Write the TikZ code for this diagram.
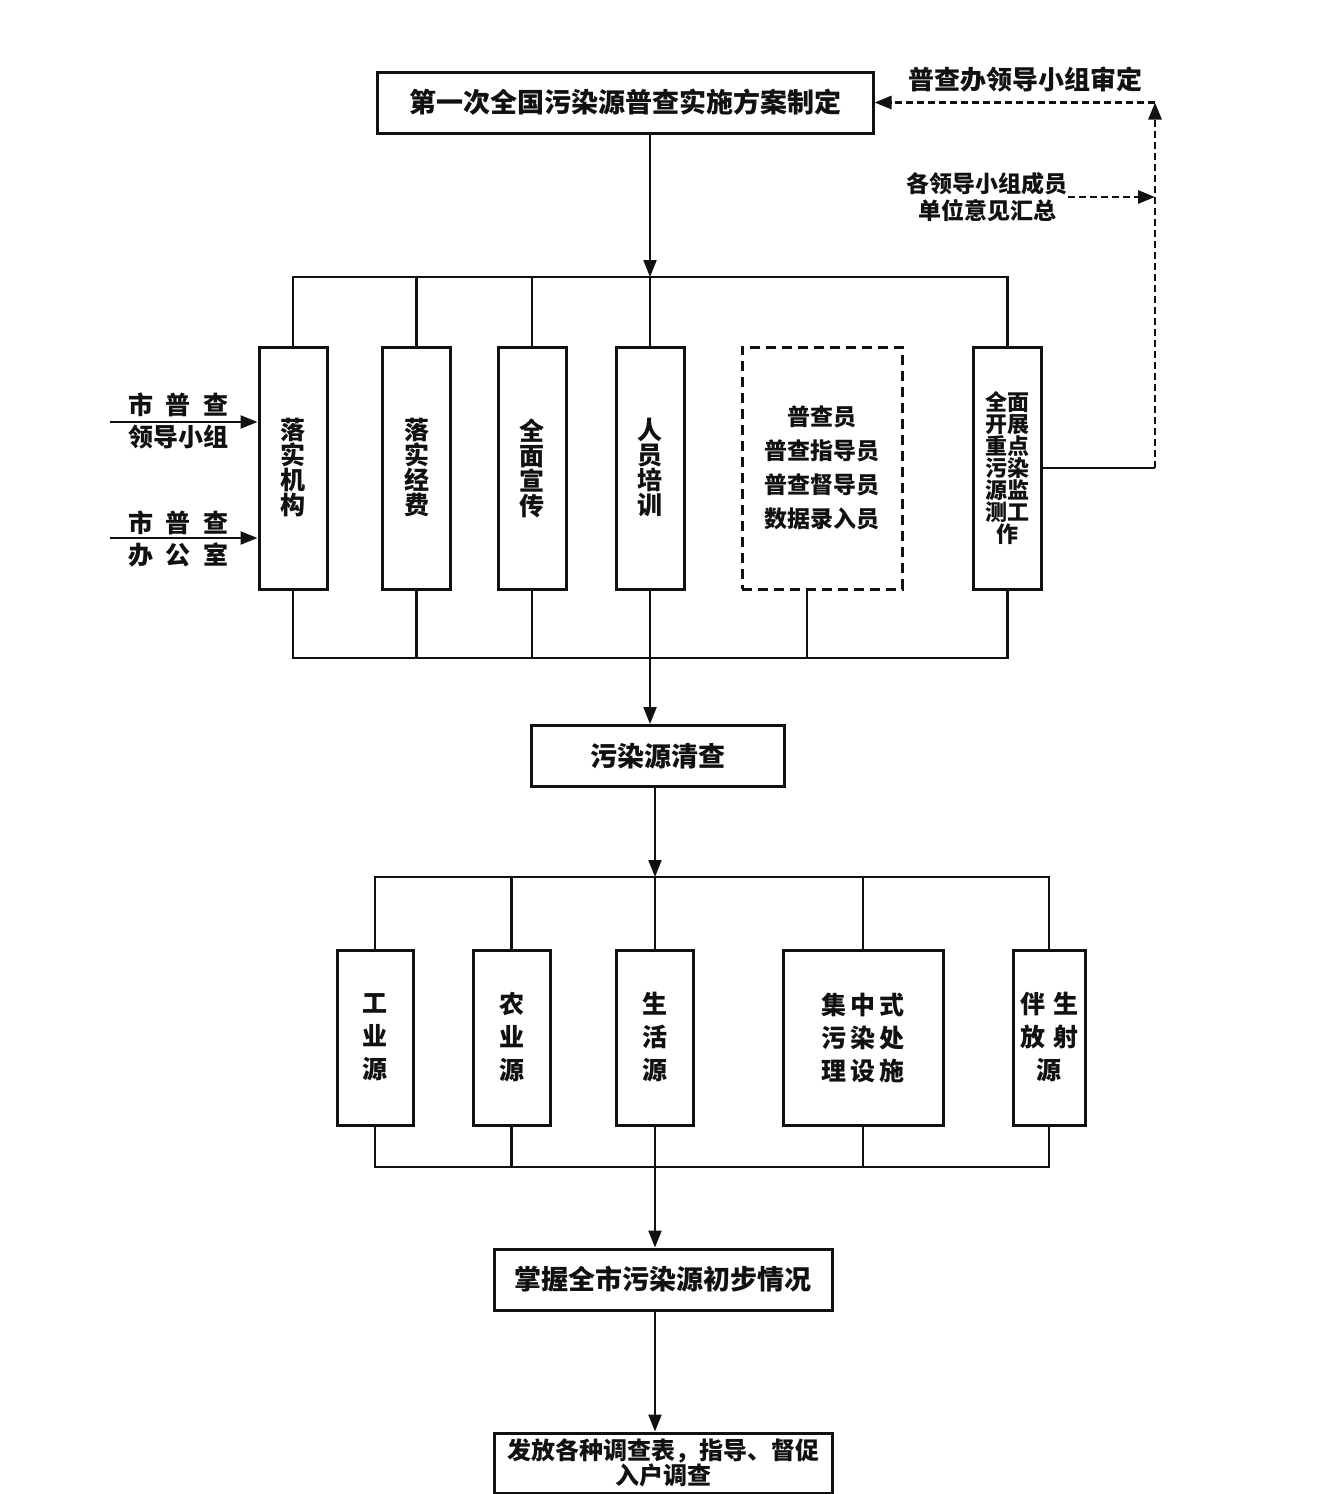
\documentclass[tikz,border=0pt]{standalone}
\usepackage{fontspec}
\setmainfont{Noto Sans CJK SC}
\usetikzlibrary{positioning, arrows.meta, calc}
\definecolor{InkBlack}{RGB}{17, 17, 17}

\begin{document}
\begin{tikzpicture}[
    x=0.5pt, y=-0.5pt,
    box/.style={draw=InkBlack, line width=1.5pt, inner sep=0pt, align=center, text=InkBlack},
    vbox/.style={box, minimum width=34pt, minimum height=121pt, font=\fontsize{12.5}{12.5}\selectfont\bfseries},
    sbox/.style={box, minimum height=87.5pt, font=\fontsize{12.5}{16.5}\selectfont\bfseries},
    wbox/.style={box, minimum height=30.5pt, font=\fontsize{13.5}{13.5}\selectfont\bfseries},
    lbl/.style={align=center, inner sep=0pt, text=InkBlack},
    conn/.style={InkBlack, line width=1.1pt},
    arrow/.style={conn, -{Triangle[length=8.5pt, width=6.5pt]}},
    dasharrow/.style={arrow, line width=1.4pt, dash pattern=on 3.5pt off 2pt}
  ]
    \useasboundingbox (0,0) rectangle (1326,1494);

    % Plan
    \node[wbox, minimum width=248pt] (plan) at (625,102.5) {第一次全国污染源普查实施方案制定};

    % Review loop
    \node[lbl, font=\fontsize{13}{13}\selectfont\bfseries] (approve) at (1025,80) {普查办领导小组审定};
    \node[lbl, font=\fontsize{11.5}{13.5}\selectfont\bfseries] (opinion) at (987,197) {各领导小组成员\\单位意见汇总};
    \coordinate (loop) at (1155,102.5);

    % Preparation
    \node[vbox] (org) at (293,468) {落\\实\\机\\构};
    \node[vbox] (fund) at (416.5,468) {落\\实\\经\\费};
    \node[vbox] (promo) at (532,468) {全\\面\\宣\\传};
    \node[vbox] (train) at (650,468) {人\\员\\培\\训};
    \node[vbox, minimum width=80pt, dash pattern=on 5pt off 3pt,
      font=\fontsize{11.5}{17}\selectfont\bfseries] (staff) at (822,468) {普查员\\普查指导员\\普查督导员\\数据录入员};
    \node[vbox, font=\fontsize{11}{11}\selectfont\bfseries] (monitor) at (1007.5,468) {全面\\开展\\重点\\污染\\源监\\测工\\作};

    % City inputs
    \node[lbl, font=\fontsize{12.5}{16}\selectfont\bfseries] (leader) at (178,421) {市\enspace 普\enspace 查\\领导小组};
    \node[lbl, font=\fontsize{12.5}{16}\selectfont\bfseries] (office) at (178,539) {市\enspace 普\enspace 查\\办\enspace 公\enspace 室};
    \coordinate (leaderin) at (110,422);
    \coordinate (officein) at (110,538);

    % Clean-up survey
    \node[wbox, minimum width=126.5pt] (clean) at (657.5,756) {污染源清查};

    % Source types
    \node[sbox, minimum width=38pt] (ind) at (375,1037.5) {工\\业\\源};
    \node[sbox, minimum width=38.5pt] (agr) at (511.5,1037.5) {农\\业\\源};
    \node[sbox, minimum width=38.5pt] (life) at (655,1037.5) {生\\活\\源};
    \node[sbox, minimum width=80pt] (central) at (863,1037.5) {集\,中\,式\\污\,染\,处\\理\,设\,施};
    \node[sbox, minimum width=36pt] (rad) at (1049,1037.5) {伴\hspace{4pt}生\\放\hspace{4pt}射\\源};

    % Results
    \node[wbox, minimum width=169pt] (grasp) at (663,1279.5) {掌握全市污染源初步情况};
    \node[wbox, minimum width=169pt, minimum height=30pt,
      font=\fontsize{12}{12.5}\selectfont\bfseries] (survey) at (663.5,1463) {发放各种调查表，指导、督促\\入户调查};

    % Connections
    \draw[conn] (monitor.east) -- (monitor.east -| loop);
    \draw[dasharrow] (monitor.east -| loop) -- (loop);
    \draw[dasharrow] (loop) -- (plan.east);
    \draw[dasharrow] (opinion.east) -- (opinion.east -| loop);

    \draw[arrow] (leaderin) -- (leaderin -| org.west);
    \draw[arrow] (officein) -- (officein -| org.west);

    \coordinate (busA) at (650,277);
    \draw[arrow] (busA |- plan.south) -- (busA);
    \draw[conn] (org.north) |- (busA) -| (monitor.north);
    \foreach \n in {fund, promo, train} {
      \draw[conn] (\n.north) -- (\n.north |- busA);
    }

    \coordinate (busB) at (650,658);
    \draw[conn] (org.south) |- (busB) -| (monitor.south);
    \foreach \n in {fund, promo} {
      \draw[conn] (\n.south) -- (\n.south |- busB);
    }
    \draw[conn] ([xshift=-7.5pt]staff.south) -- ([xshift=-7.5pt]staff.south |- busB);
    \draw[arrow] (train.south) -- (train.south |- clean.north);

    \coordinate (busC) at (655,877);
    \draw[arrow] (busC |- clean.south) -- (busC);
    \draw[conn] (ind.north) |- (busC) -| (rad.north);
    \foreach \n in {agr, life, central} {
      \draw[conn] (\n.north) -- (\n.north |- busC);
    }

    \coordinate (busD) at (655,1167);
    \draw[conn] (ind.south) |- (busD) -| (rad.south);
    \foreach \n in {agr, central} {
      \draw[conn] (\n.south) -- (\n.south |- busD);
    }
    \draw[arrow] (life.south) -- (life.south |- grasp.north);
    \draw[arrow] (life.south |- grasp.south) -- (life.south |- survey.north);
  \end{tikzpicture}
\end{document}
